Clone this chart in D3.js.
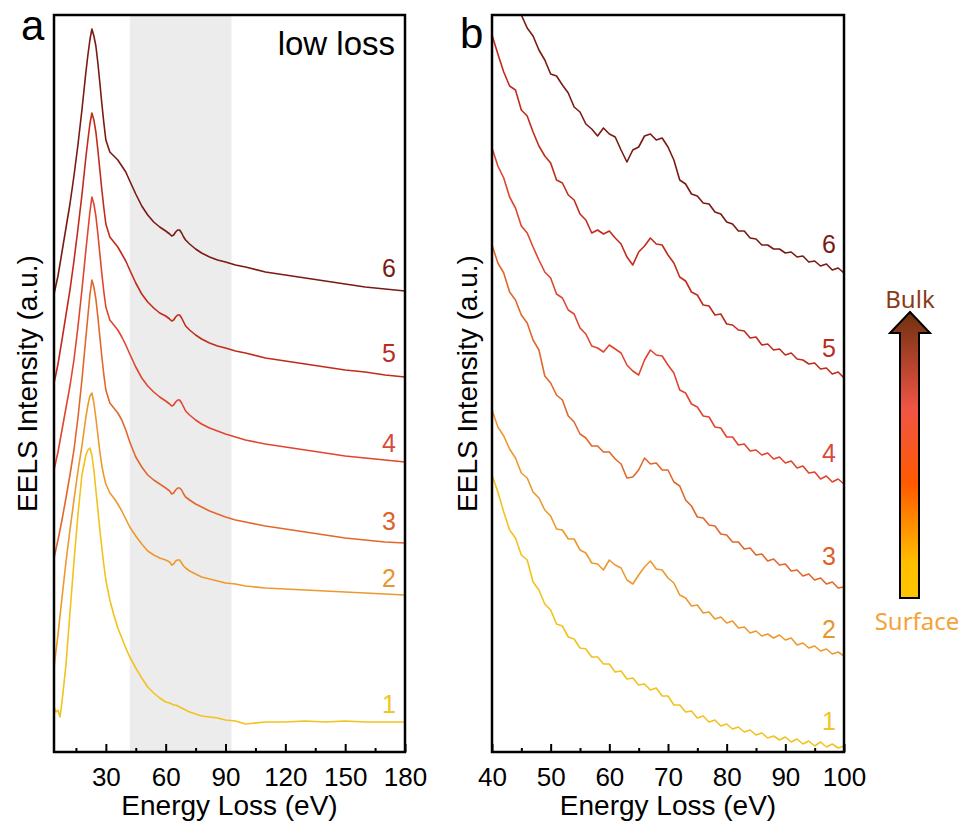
<!DOCTYPE html>
<html>
<head>
<meta charset="utf-8">
<script src="https://cdn.jsdelivr.net/npm/d3@7/dist/d3.min.js"></script>
<style>
  body { margin: 0; background: #fff; }
  svg text { font-family: "Liberation Sans", Arial, sans-serif; fill: #000; }
</style>
</head>
<body>
<div id="chart"></div>
<script>
// EELS spectra, panel a = low loss, panel b = 40-100 eV region
// intensities in arbitrary units

var energyLow = [4, 5, 6, 7, 8, 10, 12, 14, 16, 18, 20, 21, 22, 23, 24, 25, 26, 27, 28, 29,
  30, 32, 34, 36, 38, 40, 42, 45, 48, 51, 54, 57, 60, 62, 63, 64, 65, 66, 67, 68,
  69, 70, 72, 75, 78, 82, 86, 90, 95, 100, 110, 120, 130, 140, 150, 160, 170, 180];

var lowLoss1 = [4.5, 4.0, 4.2, 3.5, 5.0, 8.7, 13.9, 19.0, 23.7, 27.7, 29.7, 30.2, 30.4, 29.7, 28.2, 26.2, 24.2, 22.2, 20.4, 18.7,
  17.2, 15.2, 13.7, 12.4, 11.4, 10.4, 9.5, 8.4, 7.4, 6.5, 5.9, 5.4, 5.0, 4.9, 4.8, 4.7, 4.7, 4.6, 4.5, 4.4,
  4.3, 4.2, 4.0, 3.8, 3.6, 3.5, 3.4, 3.2, 3.1, 2.8, 3.0, 3.0, 3.1, 3.0, 3.1, 3.0, 3.0, 3.0];
var lowLoss2 = [8.4, 10.1, 11.7, 13.6, 15.4, 19.0, 22.2, 25.2, 28.1, 30.6, 33.5, 34.7, 35.6, 35.9, 34.9, 33.4, 31.7, 30.0, 28.6, 27.6,
  26.8, 25.9, 25.4, 24.8, 24.1, 23.3, 22.5, 21.6, 20.8, 20.1, 19.7, 19.4, 19.2, 19.0, 18.7, 18.8, 19.1, 19.2, 19.2, 18.9,
  18.6, 18.4, 18.1, 17.8, 17.5, 17.3, 17.1, 16.9, 16.8, 16.6, 16.4, 16.3, 16.2, 16.1, 16.0, 15.9, 15.8, 15.7];
var lowLoss3 = [19.4, 20.3, 21.2, 22.2, 23.2, 25.4, 27.7, 30.2, 33.4, 37.2, 41.5, 43.6, 45.7, 47.2, 46.5, 45.3, 43.5, 41.5, 39.5, 37.7,
  36.2, 34.9, 34.4, 33.9, 33.2, 32.2, 31.0, 29.5, 28.5, 27.7, 27.2, 26.8, 26.4, 26.1, 25.8, 25.9, 26.2, 26.4, 26.4, 26.2,
  25.8, 25.5, 25.2, 24.8, 24.5, 24.1, 23.8, 23.5, 23.2, 23.0, 22.6, 22.3, 22.0, 21.7, 21.4, 21.2, 21.0, 20.9];
var lowLoss4 = [28.2, 29.1, 30.0, 31.1, 32.2, 34.4, 36.6, 39.2, 42.5, 46.2, 50.2, 52.1, 54.0, 55.5, 54.8, 53.6, 51.8, 49.8, 47.8, 46.0,
  44.5, 43.2, 42.7, 42.2, 41.5, 40.7, 39.8, 38.5, 37.4, 36.6, 36.0, 35.5, 35.1, 34.8, 34.6, 34.7, 35.0, 35.2, 35.2, 34.9,
  34.5, 34.1, 33.7, 33.2, 32.8, 32.4, 32.1, 31.8, 31.5, 31.2, 30.8, 30.5, 30.2, 29.9, 29.6, 29.4, 29.2, 29.0];
var lowLoss5 = [36.9, 37.8, 38.8, 40.0, 41.2, 43.7, 46.2, 49.1, 52.3, 55.7, 59.5, 61.2, 62.8, 63.9, 63.2, 62.0, 60.2, 58.2, 56.2, 54.4,
  52.8, 51.5, 51.0, 50.5, 49.8, 49.1, 48.2, 46.9, 45.8, 45.0, 44.4, 43.9, 43.6, 43.3, 43.1, 43.2, 43.5, 43.7, 43.7, 43.4,
  43.0, 42.6, 42.2, 41.7, 41.3, 40.9, 40.6, 40.4, 40.1, 39.9, 39.4, 39.1, 38.8, 38.5, 38.2, 38.0, 37.7, 37.5];
var lowLoss6 = [45.8, 46.7, 47.6, 48.8, 50.0, 52.4, 54.8, 57.6, 60.7, 64.2, 68.0, 69.7, 71.2, 72.3, 71.6, 70.6, 68.9, 66.9, 64.8, 62.9,
  61.2, 60.0, 59.6, 59.2, 58.6, 58.0, 57.1, 55.8, 54.6, 53.7, 53.0, 52.5, 52.1, 51.8, 51.6, 51.7, 52.0, 52.2, 52.2, 51.9,
  51.5, 51.2, 50.8, 50.3, 49.9, 49.5, 49.2, 49.0, 48.7, 48.5, 48.0, 47.7, 47.4, 47.1, 46.8, 46.5, 46.3, 46.1];

var energyCore = [40, 41, 42, 43, 44, 45, 46, 47, 48, 49, 50, 51, 52, 53, 54, 55, 56, 57, 58, 59,
  60, 61, 62, 63, 64, 65, 66, 67, 68, 69, 70, 71, 72, 73, 74, 75, 76, 77, 78, 79,
  80, 81, 82, 83, 84, 85, 86, 87, 88, 89, 90, 91, 92, 93, 94, 95, 96, 97, 98, 99, 100];

var coreLoss1 = [27.7, 26.0, 24.0, 22.2, 21.4, 19.7, 19.2, 17.0, 16.2, 14.8, 14.2, 12.8, 12.6, 11.5, 11.3, 10.4, 10.3, 9.5, 9.5, 8.8,
  8.8, 8.0, 8.1, 7.3, 7.4, 6.7, 6.8, 6.2, 6.4, 5.6, 5.6, 4.7, 4.7, 4.0, 4.1, 3.4, 3.6, 3.0, 3.2, 2.6,
  2.8, 2.3, 2.5, 2.0, 2.2, 1.7, 1.9, 1.4, 1.6, 1.2, 1.5, 1.0, 1.3, 0.8, 1.1, 0.6, 1.0, 0.5, 0.8, 0.4, 0.6];
var coreLoss2 = [34.2, 32.5, 31.6, 30.3, 29.4, 27.9, 27.4, 26.0, 25.4, 24.2, 23.6, 22.3, 22.2, 21.3, 21.3, 20.2, 19.9, 18.9, 18.8, 18.2,
  19.2, 18.7, 18.4, 17.2, 16.8, 17.7, 18.5, 19.1, 18.3, 18.2, 17.4, 16.9, 15.7, 15.4, 14.6, 14.7, 13.9, 14.0, 13.3, 13.5,
  12.9, 13.1, 12.4, 12.5, 11.9, 12.1, 11.6, 11.8, 11.4, 11.7, 11.2, 11.4, 10.7, 10.9, 10.4, 10.6, 10.1, 10.3, 9.8, 10.0, 9.6];
var coreLoss3 = [50.7, 48.9, 47.9, 46.0, 45.2, 43.7, 42.9, 41.2, 40.2, 37.6, 36.9, 35.7, 35.2, 33.6, 33.0, 31.8, 31.4, 30.6, 30.6, 30.0,
  30.0, 29.3, 28.8, 27.4, 27.5, 28.2, 29.4, 28.8, 28.9, 28.2, 28.2, 27.0, 26.6, 25.2, 24.6, 23.5, 23.4, 22.7, 22.6, 21.8,
  21.7, 21.0, 21.0, 20.3, 20.4, 19.7, 19.8, 19.1, 19.3, 18.7, 18.8, 18.1, 18.2, 17.6, 17.8, 17.2, 17.4, 16.8, 17.0, 16.4, 16.5];
var coreLoss4 = [60.4, 58.6, 57.4, 55.5, 54.4, 52.6, 51.9, 50.5, 49.2, 48.0, 47.4, 45.8, 45.4, 44.2, 43.8, 42.4, 41.8, 40.6, 40.4, 40.0,
  40.7, 40.3, 39.9, 38.7, 38.1, 37.7, 39.2, 40.2, 39.7, 39.6, 38.7, 37.9, 36.2, 35.9, 34.8, 34.5, 33.6, 33.5, 32.5, 32.4,
  31.5, 31.5, 30.7, 30.8, 30.1, 30.2, 29.7, 29.9, 29.3, 29.5, 28.9, 29.1, 28.4, 28.6, 27.9, 28.0, 27.3, 27.6, 27.0, 27.3, 26.8];
var coreLoss5 = [71.7, 69.8, 68.0, 66.6, 66.2, 64.2, 63.6, 62.0, 60.6, 59.6, 58.9, 57.2, 56.9, 55.7, 55.2, 53.8, 53.2, 51.9, 52.2, 51.8,
  52.1, 51.4, 50.8, 49.5, 48.7, 50.0, 50.6, 51.4, 50.8, 50.7, 49.7, 48.9, 47.5, 47.1, 46.0, 45.7, 44.7, 44.6, 43.7, 43.8,
  42.8, 42.7, 42.2, 42.1, 41.4, 41.5, 40.7, 40.8, 40.2, 40.3, 39.7, 39.9, 39.3, 39.2, 38.8, 38.9, 38.3, 38.4, 37.8, 38.0, 37.4];
var coreLoss6 = [79.2, 78.2, 77.2, 76.0, 74.9, 73.7, 72.4, 71.6, 70.2, 69.2, 67.8, 67.6, 66.7, 65.9, 64.5, 64.0, 62.8, 62.3, 61.6, 62.4,
  61.8, 61.5, 60.2, 59.0, 60.2, 60.5, 61.6, 61.8, 61.2, 61.4, 60.5, 59.2, 57.2, 56.8, 55.8, 55.6, 54.9, 54.8, 54.0, 53.8,
  53.0, 52.8, 52.1, 52.1, 51.4, 51.3, 50.7, 50.7, 50.3, 50.3, 49.9, 50.0, 49.5, 49.6, 49.0, 49.1, 48.6, 48.8, 48.2, 48.4, 47.9];

var seriesNames = ["1", "2", "3", "4", "5", "6"];
var lineColors = ["#f2c21e", "#ec9a2e", "#e2672a", "#e0452f", "#c22b1b", "#7a1a12"];
var labelColors = ["#f2c428", "#e8952d", "#dc6129", "#d9493a", "#b92c1e", "#7b1a12"];

var ticksLowMajor = [30, 60, 90, 120, 150, 180];
var ticksLowMinor = [15, 45, 75, 105, 135, 165];
var ticksCoreMajor = [40, 50, 60, 70, 80, 90, 100];
var ticksCoreMinor = [45, 55, 65, 75, 85, 95];
var shadedBand = [42, 93];

// Layout
var width = 965;
var height = 823;
var frameTop = 15;
var frameBottom = 752;

var svg = d3.select("#chart")
  .append("svg")
  .attr("width", width)
  .attr("height", height);

var yScale = d3.scaleLinear().domain([0, 73.7]).range([frameBottom, frameTop]);

function drawPanel(cfg) {
  var x = d3.scaleLinear().domain(cfg.domain).range([cfg.left, cfg.right]);
  var g = svg.append("g");

  // clip for the spectra
  svg.append("clipPath")
    .attr("id", cfg.id + "-clip")
    .append("rect")
    .attr("x", cfg.left)
    .attr("y", frameTop)
    .attr("width", cfg.right - cfg.left)
    .attr("height", frameBottom - frameTop);

  if (cfg.band) {
    g.append("rect")
      .attr("x", x(cfg.band[0]))
      .attr("y", frameTop)
      .attr("width", x(cfg.band[1]) - x(cfg.band[0]))
      .attr("height", frameBottom - frameTop)
      .attr("fill", "#ececec");
  }

  var line = d3.line()
    .x(function(d) { return x(d[0]); })
    .y(function(d) { return yScale(d[1]); });

  var curves = g.append("g").attr("clip-path", "url(#" + cfg.id + "-clip)");
  cfg.series.forEach(function(vals, i) {
    var pts = vals.map(function(v, k) { return [cfg.energy[k], v]; });
    curves.append("path")
      .datum(pts)
      .attr("d", line)
      .attr("fill", "none")
      .attr("stroke", lineColors[i])
      .attr("stroke-width", 1.6)
      .attr("stroke-linejoin", "round");
  });

  // minor and major ticks, pointing inward
  var minorAxis = d3.axisBottom(x).tickValues(cfg.minor).tickSize(-4).tickFormat("");
  g.append("g")
    .attr("transform", "translate(0," + frameBottom + ")")
    .call(minorAxis)
    .call(function(s) { s.select(".domain").remove(); })
    .selectAll("line").attr("stroke", "#000").attr("stroke-width", 2);

  var majorAxis = d3.axisBottom(x).tickValues(cfg.major).tickSize(-8).tickPadding(15.5);
  var ax = g.append("g")
    .attr("transform", "translate(0," + frameBottom + ")")
    .call(majorAxis);
  ax.select(".domain").remove();
  ax.selectAll("line").attr("stroke", "#000").attr("stroke-width", 2);
  ax.selectAll("text")
    .attr("font-size", 26)
    .attr("font-family", "Liberation Sans, Arial, sans-serif")
    .attr("fill", "#000");

  // frame
  g.append("rect")
    .attr("x", cfg.left)
    .attr("y", frameTop)
    .attr("width", cfg.right - cfg.left)
    .attr("height", frameBottom - frameTop)
    .attr("fill", "none")
    .attr("stroke", "#000")
    .attr("stroke-width", 2.5);

  // axis titles
  g.append("text")
    .attr("x", (cfg.left + cfg.right) / 2)
    .attr("y", 815)
    .attr("text-anchor", "middle")
    .attr("font-size", 28)
    .text("Energy Loss (eV)");

  g.append("text")
    .attr("transform", "translate(" + cfg.yTitleX + "," + (frameTop + frameBottom) / 2 + ")rotate(-90)")
    .attr("text-anchor", "middle")
    .attr("font-size", 28)
    .text("EELS Intensity (a.u.)");

  // panel letter
  g.append("text")
    .attr("x", cfg.letterX)
    .attr("y", cfg.letterY)
    .attr("font-size", 42)
    .text(cfg.letter);

  // curve numbers
  cfg.labelY.forEach(function(yy, i) {
    g.append("text")
      .attr("x", cfg.labelX)
      .attr("y", yy)
      .attr("text-anchor", "end")
      .attr("font-size", 25)
      .style("fill", labelColors[i])
      .text(seriesNames[i]);
  });

  return g;
}

var panelA = drawPanel({
  id: "a",
  left: 54,
  right: 405,
  domain: [4, 180],
  energy: energyLow,
  series: [lowLoss1, lowLoss2, lowLoss3, lowLoss4, lowLoss5, lowLoss6],
  major: ticksLowMajor,
  minor: ticksLowMinor,
  band: shadedBand,
  yTitleX: 37,
  letter: "a",
  letterX: 21,
  letterY: 40,
  labelX: 396,
  labelY: [713, 587, 530, 452, 362, 277]
});

panelA.append("text")
  .attr("x", 395)
  .attr("y", 55)
  .attr("text-anchor", "end")
  .attr("font-size", 33)
  .text("low loss");

drawPanel({
  id: "b",
  left: 492,
  right: 844,
  domain: [40, 100],
  energy: energyCore,
  series: [coreLoss1, coreLoss2, coreLoss3, coreLoss4, coreLoss5, coreLoss6],
  major: ticksCoreMajor,
  minor: ticksCoreMinor,
  band: null,
  yTitleX: 477,
  letter: "b",
  letterX: 460,
  letterY: 48,
  labelX: 836,
  labelY: [730, 638, 565, 462, 357, 253]
});

// Surface -> Bulk arrow
var defs = svg.append("defs");
var grad = defs.append("linearGradient")
  .attr("id", "arrowGrad")
  .attr("x1", 0).attr("y1", 1)
  .attr("x2", 0).attr("y2", 0);
grad.append("stop").attr("offset", "0%").attr("stop-color", "#ffc400");
grad.append("stop").attr("offset", "12%").attr("stop-color", "#ffbf00");
grad.append("stop").attr("offset", "40%").attr("stop-color", "#ff5a00");
grad.append("stop").attr("offset", "66%").attr("stop-color", "#f05545");
grad.append("stop").attr("offset", "100%").attr("stop-color", "#703010");

var arrow = svg.append("g");
arrow.append("path")
  .attr("d", "M900,598 L900,333 L890,333 L910,312 L930,333 L919,333 L919,598 Z")
  .attr("fill", "url(#arrowGrad)")
  .attr("stroke", "#000")
  .attr("stroke-width", 2)
  .attr("stroke-linejoin", "miter");

arrow.append("text")
  .attr("x", 910)
  .attr("y", 308)
  .attr("text-anchor", "middle")
  .attr("font-size", 24)
  .style("font-family", "'Noto Sans', sans-serif")
  .style("fill", "#8a3a18")
  .text("Bulk");

arrow.append("text")
  .attr("x", 917)
  .attr("y", 630)
  .attr("text-anchor", "middle")
  .attr("font-size", 24)
  .style("font-family", "'Noto Sans', sans-serif")
  .style("fill", "#f5a23a")
  .text("Surface");
</script>
</body>
</html>
